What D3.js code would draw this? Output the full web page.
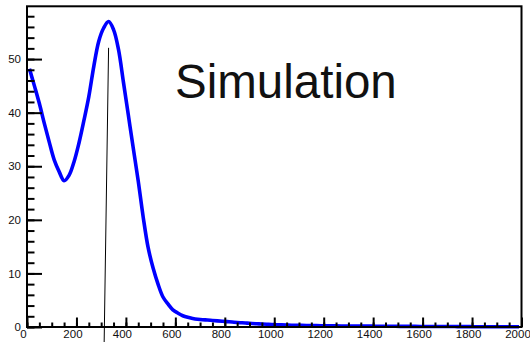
<!DOCTYPE html>
<html>
<head>
<meta charset="utf-8">
<script src="https://cdn.jsdelivr.net/npm/d3@7"></script>
<style>
  html, body { margin: 0; padding: 0; background: #fff; }
  svg { display: block; font-family: "Liberation Sans", Arial, Helvetica, sans-serif; }
</style>
</head>
<body>
<svg id="chart" width="530" height="342"></svg>
<script>
// Histogram bin centres (bin width 20, range 0..2000)
const binCenters = d3.range(10, 2000, 20);

// Entries per bin
const counts = [
  48.2, 45.0, 41.7, 38.0, 34.5, 31.2, 29.0, 27.3, 28.3, 30.8,
  34.3, 38.5, 43.0, 48.6, 53.3, 55.8, 57.0, 55.5, 51.8, 45.7,
  39.5, 33.3, 27.2, 20.5, 14.8, 11.0, 8.0, 5.6, 4.3, 3.2,
  2.6, 2.1, 1.8, 1.6, 1.45, 1.35, 1.3, 1.22, 1.15, 1.08,
  1.0, 0.92, 0.85, 0.78, 0.72, 0.66, 0.6, 0.55, 0.5, 0.46,
  0.42, 0.39, 0.36, 0.34, 0.32, 0.3, 0.28, 0.26, 0.25, 0.24,
  0.23, 0.22, 0.21, 0.2, 0.19, 0.18, 0.18, 0.17, 0.16, 0.16,
  0.15, 0.15, 0.14, 0.13, 0.13, 0.12, 0.12, 0.11, 0.11, 0.1,
  0.1, 0.1, 0.09, 0.09, 0.08, 0.08, 0.08, 0.07, 0.07, 0.07,
  0.06, 0.06, 0.06, 0.05, 0.05, 0.05, 0.05, 0.04, 0.04, 0.04
];

// Axis ticks
const xMajorTicks = [0, 200, 400, 600, 800, 1000, 1200, 1400, 1600, 1800, 2000];
const xMinorTicks = d3.range(0, 2001, 50);
const yMajorTicks = [0, 10, 20, 30, 40, 50];
const yMinorTicks = d3.range(0, 59, 2);

// Marker line (x, y endpoints in data units)
const markerX = [330, 312];
const markerY = [52.1, -3];

const titleText = "Simulation";

const xDomain = [0, 2000];
const yDomain = [0, 59.85];

const frame = { left: 27, right: 521.5, top: 6.3, bottom: 327 };

const svg = d3.select("#chart");

const x = d3.scaleLinear().domain(xDomain).range([frame.left, frame.right]);
const y = d3.scaleLinear().domain(yDomain).range([frame.bottom, frame.top]);

// Smoothed curve through bin centres
const line = d3.line()
  .curve(d3.curveCatmullRom.alpha(0.5))
  .x((d, i) => x(binCenters[i]))
  .y(d => y(d));

svg.append("path")
  .datum(counts)
  .attr("fill", "none")
  .attr("stroke", "#0000ff")
  .attr("stroke-width", 3.6)
  .attr("stroke-linejoin", "round")
  .attr("d", line);

// Frame
svg.append("rect")
  .attr("x", frame.left)
  .attr("y", frame.top)
  .attr("width", frame.right - frame.left)
  .attr("height", frame.bottom - frame.top)
  .attr("fill", "none")
  .attr("stroke", "#000")
  .attr("stroke-width", 2);

// X axis: minor then major ticks pointing inward
const gxMinor = svg.append("g")
  .attr("transform", `translate(0,${frame.bottom})`)
  .call(d3.axisBottom(x).tickValues(xMinorTicks).tickSize(-4.5).tickFormat(""));
const gx = svg.append("g")
  .attr("transform", `translate(0,${frame.bottom})`)
  .call(d3.axisBottom(x).tickValues(xMajorTicks).tickSize(-9.5).tickPadding(3).tickFormat(d3.format("d")));

// Y axis
const gyMinor = svg.append("g")
  .attr("transform", `translate(${frame.left},0)`)
  .call(d3.axisLeft(y).tickValues(yMinorTicks).tickSize(-7.5).tickFormat(""));
const gy = svg.append("g")
  .attr("transform", `translate(${frame.left},0)`)
  .call(d3.axisLeft(y).tickValues(yMajorTicks).tickSize(-15).tickPadding(6).tickFormat(d3.format("d")));

[gxMinor, gx, gyMinor, gy].forEach(g => {
  g.select(".domain").remove();
  g.selectAll(".tick line").attr("stroke", "#000").attr("stroke-width", 2);
  g.selectAll(".tick text")
    .attr("fill", "#111")
    .style("font-family", '"Liberation Sans", Arial, Helvetica, sans-serif')
    .style("font-size", "11.5px");
});
gx.selectAll(".tick text").attr("dx", -4);

// Marker line
svg.append("line")
  .attr("x1", x(markerX[0]))
  .attr("y1", y(markerY[0]))
  .attr("x2", x(markerX[1]))
  .attr("y2", y(markerY[1]))
  .attr("stroke", "#000")
  .attr("stroke-width", 1);

// Title label
svg.append("text")
  .attr("x", 175)
  .attr("y", 98)
  .attr("fill", "#111")
  .style("font-size", "47.5px")
  .text(titleText);
</script>
</body>
</html>
